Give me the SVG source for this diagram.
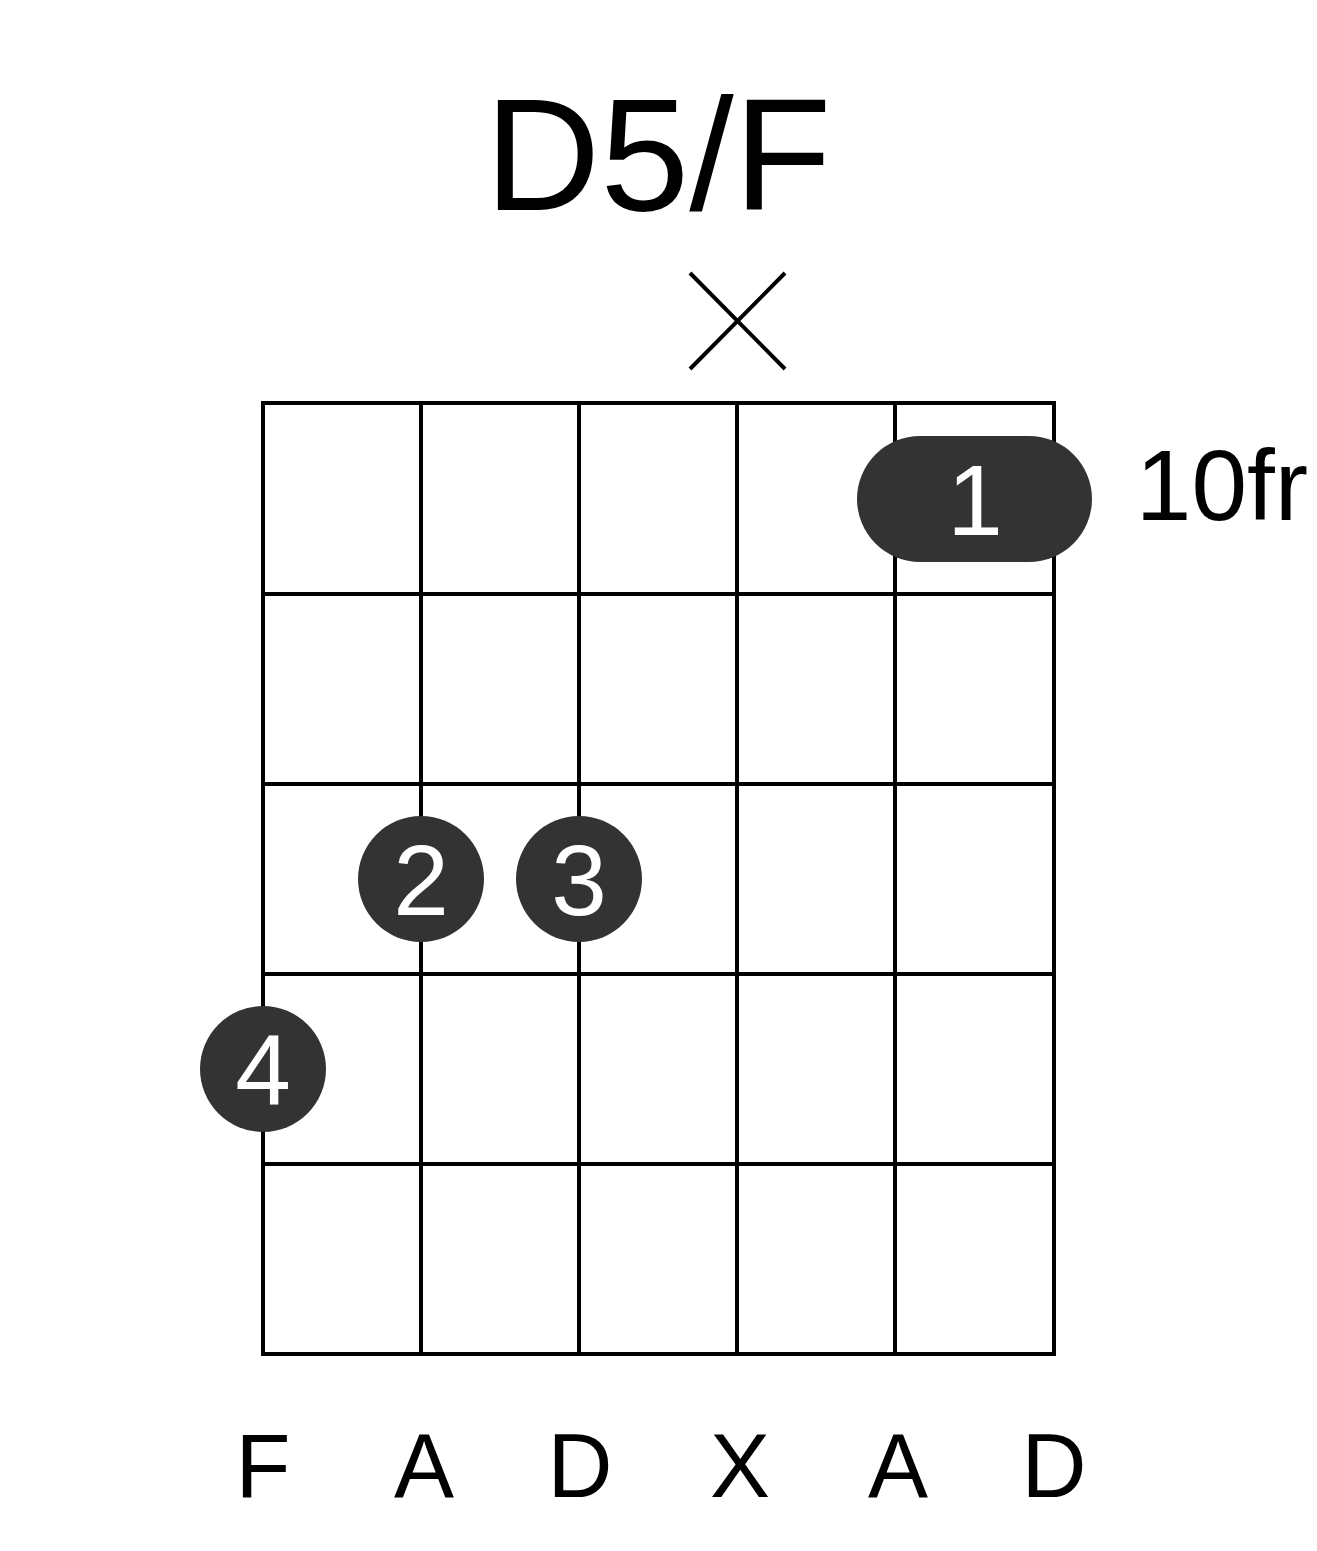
<svg xmlns="http://www.w3.org/2000/svg" width="1317" height="1551" viewBox="0 0 1317 1551">
<style>
.l{stroke:#000;stroke-width:4;fill:none}
.d{fill:#333}
.f{font-family:"Liberation Sans",Arial,sans-serif;fill:#fff;font-size:100px;text-anchor:middle}
.t{font-family:"Liberation Sans",Arial,sans-serif;fill:#000;text-anchor:middle}
</style>
<rect width="1317" height="1551" fill="#fff"/>
<text class="t" x="658" y="210" font-size="160">D5/F</text>
<g id="grid" class="l">
<rect x="263" y="403" width="791" height="951"/>
<line x1="421" y1="403" x2="421" y2="1354"/>
<line x1="579" y1="403" x2="579" y2="1354"/>
<line x1="737" y1="403" x2="737" y2="1354"/>
<line x1="895" y1="403" x2="895" y2="1354"/>
<line x1="263" y1="594" x2="1054" y2="594"/>
<line x1="263" y1="784" x2="1054" y2="784"/>
<line x1="263" y1="974" x2="1054" y2="974"/>
<line x1="263" y1="1164" x2="1054" y2="1164"/>
</g>
<g id="mute" class="l" stroke-width="3">
<line x1="690" y1="273" x2="785" y2="369"/>
<line x1="785" y1="273" x2="690" y2="369"/>
</g>
<g id="f1"><rect class="d" x="857" y="436" width="235" height="126" rx="63"/><text class="f" x="975" y="535">1</text></g>
<g id="f2"><circle class="d" cx="421" cy="879" r="63"/><text class="f" x="421" y="915">2</text></g>
<g id="f3"><circle class="d" cx="579" cy="879" r="63"/><text class="f" x="579" y="915">3</text></g>
<g id="f4"><circle class="d" cx="263" cy="1069" r="63"/><text class="f" x="263" y="1105">4</text></g>
<text class="t" x="1222" y="520" font-size="100">10fr</text>
<g class="t" font-size="90">
<text x="263" y="1497">F</text><text x="424" y="1497">A</text><text x="580" y="1497">D</text><text x="740" y="1497">X</text><text x="898" y="1497">A</text><text x="1054" y="1497">D</text>
</g>
</svg>
